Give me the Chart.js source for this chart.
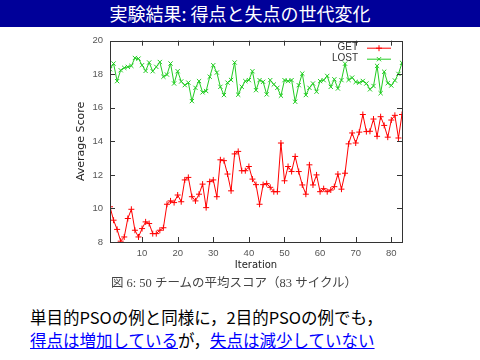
<!DOCTYPE html>
<html>
<head>
<meta charset="utf-8">
<script src="https://cdn.jsdelivr.net/npm/chart.js@4/dist/chart.umd.min.js"></script>
<style>
  body { margin: 0; width: 480px; height: 360px; overflow: hidden; background: #fff; position: relative; font-family: "Noto Sans CJK JP", sans-serif; }
  #titulo { position: absolute; left: 0; top: 0; width: 480px; height: 27px; background: #000099; color: #fff; font-size: 18px; line-height: 27px; text-align: center; }
  #grafico { position: absolute; left: 0; top: 28px; }
  #pie { position: absolute; left: 0; top: 272px; width: 468px; text-align: center; font-family: "Liberation Serif", "Noto Sans CJK JP", serif; font-size: 12.5px; color: #444; }
  #texto { position: absolute; left: 30px; top: 306px; font-size: 16.5px; line-height: 23px; color: #000; white-space: nowrap; }
  #texto a { color: #0000ff; text-decoration: underline; }
</style>
</head>
<body>
<div id="titulo">実験結果: 得点と失点の世代変化</div>
<canvas id="grafico" width="480" height="250"></canvas>
<div id="pie">図 6: 50 チームの平均スコア（83 サイクル）</div>
<div id="texto">単目的PSOの例と同様に，2目的PSOの例でも，<br><a>得点は増加している</a>が，<a>失点は減少していない</a></div>
<script>
// Puntuación media de 50 equipos por iteración (1..83)
const getScore = [10.1, 9.3, 8.75, 8.05, 8.3, 9.4, 9.95, 8.7, 8.3, 8.8,
  9.2, 9.1, 8.5, 8.5, 8.7, 8.85, 10.25, 10.45, 10.35, 10.8,
  10.4, 11.7, 11.85, 10.7, 10.45, 10.85, 11.45, 10.05, 11.6, 11.7,
  10.7, 12.9, 12.85, 12.05, 11.05, 13.25, 13.4, 12.25, 12.25, 12.5,
  11.75, 11.42, 10.25, 11.42, 11.48, 11.26, 11.0, 11.0, 13.9, 11.65,
  12.5, 12.2, 13.1, 12.2, 11.4, 10.85, 12.6, 11.4, 12.0, 11.0,
  11.18, 11.0, 11.1, 11.3, 12.05, 11.15, 12.1, 13.85, 14.5, 13.9,
  14.55, 15.6, 14.58, 14.6, 15.33, 14.3, 15.47, 14.95, 14.25, 15.27,
  15.55, 14.2, 15.6];
const lostScore = [18.3, 18.64, 17.59, 18.24, 18.38, 18.44, 18.5, 18.97, 18.93, 18.54,
  18.2, 18.7, 18.18, 18.44, 18.73, 17.85, 17.98, 18.64, 17.45, 18.18,
  17.57, 17.35, 17.5, 16.4, 17.19, 17.59, 16.92, 17.0, 17.85, 18.54,
  18.1, 17.25, 16.76, 17.5, 17.66, 18.7, 16.78, 17.25, 17.59, 17.65,
  18.18, 17.05, 17.65, 17.55, 16.8, 17.65, 17.39, 17.19, 16.72, 17.65,
  17.59, 17.65, 16.36, 17.35, 18.04, 16.76, 17.19, 17.45, 16.96, 17.59,
  17.65, 17.9, 17.25, 17.7, 17.15, 17.65, 18.63, 17.66, 17.8, 17.54,
  17.5, 17.6, 17.45, 17.1, 17.3, 18.5, 16.87, 18.15, 17.47, 17.33,
  17.63, 18.02, 18.68];
const iteraciones = getScore.map((v, i) => i + 1);
const xTicks = [10, 20, 30, 40, 50, 60, 70, 80];
const etiquetas = ['GET', 'LOST'];

// Marcas hacia dentro, marco y leyenda al estilo gnuplot
const estiloGnuplot = {
  id: 'estiloGnuplot',
  afterDatasetsDraw(chart) {
    const ctx = chart.ctx;
    const a = chart.chartArea;
    const sx = chart.scales.x, sy = chart.scales.y;
    ctx.save();
    ctx.strokeStyle = '#333';
    ctx.lineWidth = 1;
    ctx.beginPath();
    sy.ticks.forEach(t => {
      const p = Math.round(sy.getPixelForValue(t.value)) + 0.5;
      ctx.moveTo(a.left, p); ctx.lineTo(a.left + 5, p);
      ctx.moveTo(a.right, p); ctx.lineTo(a.right - 5, p);
    });
    sx.ticks.forEach(t => {
      const p = Math.round(sx.getPixelForValue(t.value)) + 0.5;
      ctx.moveTo(p, a.bottom); ctx.lineTo(p, a.bottom - 5);
      ctx.moveTo(p, a.top); ctx.lineTo(p, a.top + 5);
    });
    ctx.stroke();
    ctx.strokeRect(Math.round(a.left) + 0.5, Math.round(a.top) + 0.5, Math.round(a.right - a.left), Math.round(a.bottom - a.top));

    // leyenda
    ctx.font = '10px "Liberation Sans", sans-serif';
    ctx.textAlign = 'right';
    ctx.textBaseline = 'middle';
    chart.data.datasets.forEach((ds, i) => {
      const y = a.top + 7 + i * 11;
      ctx.fillStyle = '#333';
      ctx.fillText(ds.label, a.right - 44, y);
      ctx.strokeStyle = ds.borderColor;
      ctx.beginPath();
      ctx.moveTo(a.right - 35, y + 0.5);
      ctx.lineTo(a.right - 11, y + 0.5);
      ctx.stroke();
      Chart.helpers.drawPoint(ctx, { pointStyle: ds.pointStyle, radius: 3, borderWidth: 1 }, a.right - 23, y + 0.5);
    });
    ctx.restore();
  }
};

const puntos = serie => serie.map((v, i) => ({ x: iteraciones[i], y: v }));

new Chart(document.getElementById('grafico').getContext('2d'), {
  type: 'line',
  data: {
    datasets: [{
      label: etiquetas[0],
      data: puntos(getScore),
      borderColor: '#ff0000',
      backgroundColor: '#ff0000',
      borderWidth: 1,
      pointStyle: 'cross',
      pointRadius: 3,
      pointBorderWidth: 1,
      tension: 0
    }, {
      label: etiquetas[1],
      data: puntos(lostScore),
      borderColor: '#22cc22',
      backgroundColor: '#22cc22',
      borderWidth: 1,
      pointStyle: 'crossRot',
      pointRadius: 3,
      pointBorderWidth: 1,
      tension: 0
    }]
  },
  options: {
    responsive: false,
    animation: false,
    devicePixelRatio: 1,
    layout: { padding: { left: 70, right: 78, top: 12, bottom: 6 } },
    plugins: { legend: { display: false }, tooltip: { enabled: false } },
    scales: {
      x: {
        type: 'linear',
        min: 1,
        max: 83,
        afterBuildTicks: s => { s.ticks = xTicks.map(v => ({ value: v })); },
        afterFit: s => { s.height = 30; },
        grid: { display: false, drawTicks: false },
        border: { display: false },
        ticks: { padding: 6, color: '#555', font: { family: 'Liberation Sans', size: 9.5 } },
        title: { display: true, text: 'Iteration', color: '#222', padding: { top: 0, bottom: 1 }, font: { family: 'DejaVu Sans', size: 10 } }
      },
      y: {
        min: 8,
        max: 20,
        afterFit: s => { s.width = 40; },
        grid: { display: false, drawTicks: false },
        border: { display: false },
        ticks: { stepSize: 2, padding: 7, color: '#555', font: { family: 'Liberation Sans', size: 9.5 } },
        title: { display: true, text: 'Average Score', color: '#222', padding: { top: 5, bottom: 0 }, font: { family: 'DejaVu Sans', size: 11 } }
      }
    }
  },
  plugins: [estiloGnuplot]
});
</script>
</body>
</html>
